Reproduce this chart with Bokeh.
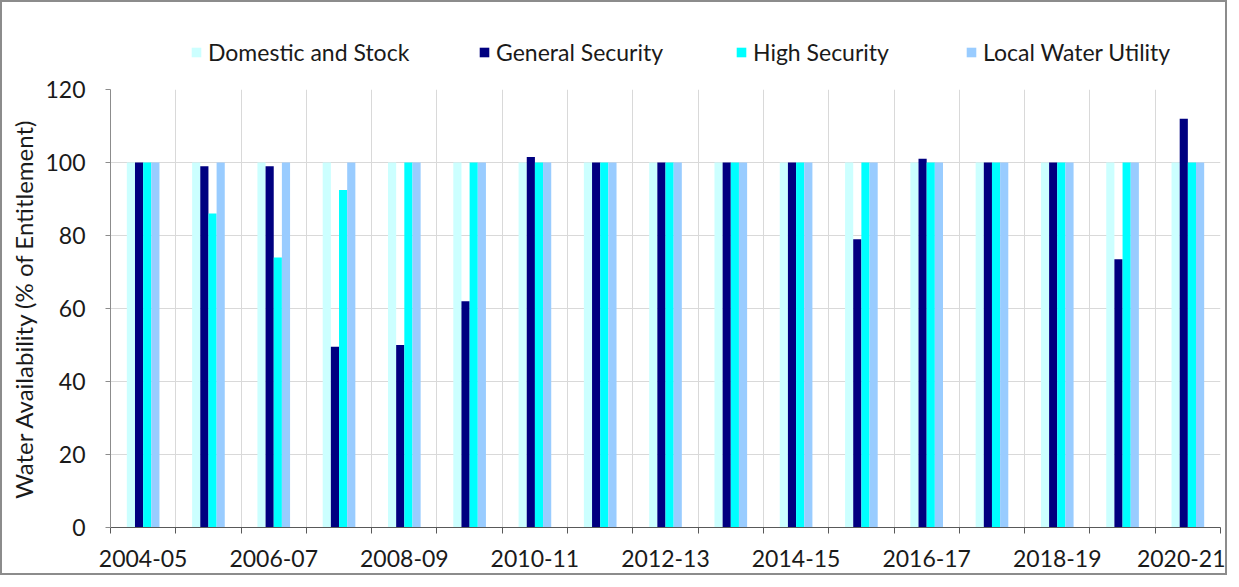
from bokeh.plotting import figure
from bokeh.layouts import column
from bokeh.models import Range1d, FixedTicker, Legend, LegendItem, ColumnDataSource
from bokeh.embed import file_html
from bokeh.resources import INLINE

years = ["2004-05", "2005-06", "2006-07", "2007-08", "2008-09", "2009-10", "2010-11",
         "2011-12", "2012-13", "2013-14", "2014-15", "2015-16", "2016-17", "2017-18",
         "2018-19", "2019-20", "2020-21"]
domestic_stock = [100] * 17
general_security = [100, 99, 99, 49.5, 50, 62, 101.5, 100, 100, 100, 100, 79, 101, 100, 100, 73.5, 112]
high_security = [100, 86, 74, 92.5, 100, 100, 100, 100, 100, 100, 100, 100, 100, 100, 100, 100, 100]
local_water_utility = [100] * 17

series = [
    ("Domestic and Stock", domestic_stock, "#ccffff", -0.1875),
    ("General Security", general_security, "#000080", -0.0625),
    ("High Security", high_security, "#00ffff", 0.0625),
    ("Local Water Utility", local_water_utility, "#99ccff", 0.1875),
]
legend_x = [80, 368, 625, 855]

FONT = "Lato"
n = len(years)
idx = list(range(n))
W = 1223
LEG_H = 70

# legend strip
lf = figure(width=W, height=LEG_H, output_backend="svg", toolbar_location=None,
            x_range=Range1d(0, 1), y_range=Range1d(0, 1),
            min_border=0, min_border_left=0, min_border_right=0,
            min_border_top=0, min_border_bottom=0)
lf.axis.visible = False
lf.grid.visible = False
lf.outline_line_color = None
lf.border_fill_color = "white"

# main chart
p = figure(width=W, height=571 - LEG_H, output_backend="svg", toolbar_location=None,
           x_range=Range1d(-0.5, n - 0.5), y_range=Range1d(0, 120),
           min_border_left=108, min_border_right=5, min_border_bottom=46, min_border_top=17)
p.outline_line_color = None
p.background_fill_color = "white"
p.border_fill_color = "white"

for (name, vals, color, off), lx in zip(series, legend_x):
    src = ColumnDataSource(dict(x=[i + off for i in idx], top=vals))
    p.vbar(x="x", top="top", width=0.125, source=src, fill_color=color, line_color=None)
    key = lf.vbar(x=[0], top=[0], width=0.001, fill_color=color, line_color=None)
    lg = Legend(items=[LegendItem(label=name, renderers=[key])], location=(lx, 6),
                label_text_font=FONT, label_text_font_size="23px", label_text_color="#1a1a1a",
                glyph_width=12, glyph_height=12, border_line_color=None,
                background_fill_alpha=0, padding=0, margin=0, label_standoff=6)
    lf.add_layout(lg, "center")

boundaries = [i - 0.5 for i in range(n + 1)]
p.xaxis.ticker = FixedTicker(ticks=idx[::2], minor_ticks=boundaries)
p.xaxis.major_label_overrides = {i: years[i] for i in idx[::2]}
p.xaxis.major_tick_out = 0
p.xaxis.major_tick_in = 0
p.xaxis.minor_tick_out = 6
p.xaxis.minor_tick_in = 0
p.xaxis.minor_tick_line_color = "#595959"
p.xaxis.axis_line_color = "#595959"
p.xaxis.major_label_standoff = 16
p.xaxis.major_label_text_font = FONT
p.xaxis.major_label_text_font_size = "23px"
p.xaxis.major_label_text_color = "#1a1a1a"

p.yaxis.ticker = FixedTicker(ticks=[0, 20, 40, 60, 80, 100, 120])
p.yaxis.axis_label = "Water Availability (% of Entitlement)"
p.yaxis.axis_label_text_font = FONT
p.yaxis.axis_label_text_font_style = "normal"
p.yaxis.axis_label_text_font_size = "24px"
p.yaxis.axis_label_text_color = "#1a1a1a"
p.yaxis.axis_label_standoff = 4
p.yaxis.major_label_standoff = 20
p.yaxis.major_label_text_font = FONT
p.yaxis.major_label_text_font_size = "23px"
p.yaxis.major_label_text_color = "#1a1a1a"
p.yaxis.major_tick_out = 5
p.yaxis.major_tick_in = 0
p.yaxis.minor_tick_line_color = None
p.yaxis.axis_line_color = "#8c8c8c"
p.yaxis.major_tick_line_color = "#8c8c8c"

p.xgrid.ticker = FixedTicker(ticks=boundaries)
p.xgrid.grid_line_color = "#d9d9d9"
p.ygrid.grid_line_color = "#d9d9d9"

layout = column(lf, p, spacing=0, styles={"border": "2px solid #8c8c8c"})

open("out.html", "w").write(file_html(layout, INLINE))
